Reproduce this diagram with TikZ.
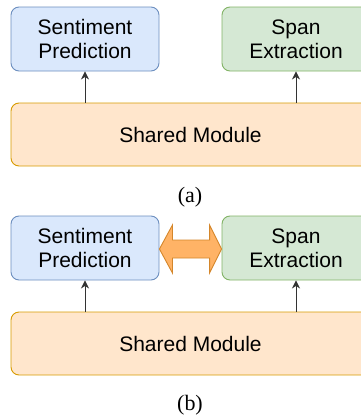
\documentclass[tikz,border=0pt]{standalone}
\usepackage{fontspec}
\setmainfont{Liberation Serif}
\newfontfamily\boxfont{Liberation Sans}
\usetikzlibrary{arrows.meta,calc}
\definecolor{blueFill}{HTML}{DAE8FC}
\definecolor{blueLine}{HTML}{6C8EBF}
\definecolor{greenFill}{HTML}{D5E8D4}
\definecolor{greenLine}{HTML}{82B366}
\definecolor{orangeFill}{HTML}{FFE6CC}
\definecolor{orangeLine}{HTML}{D79B00}
\definecolor{arrowFill}{HTML}{FFB366}
\definecolor{arrowLine}{HTML}{D4862A}
\definecolor{linkGray}{HTML}{333333}
\tikzset{
  taskbox/.style={draw, line width=0.9pt, rounded corners=8pt, minimum width=148pt,
    minimum height=64pt, inner sep=0pt, align=center,
    font=\boxfont\fontsize{21}{24}\selectfont},
  sentbox/.style={taskbox, fill=blueFill, draw=blueLine},
  spanbox/.style={taskbox, fill=greenFill, draw=greenLine},
  sharedbox/.style={taskbox, fill=orangeFill, draw=orangeLine, minimum width=359pt, minimum height=63pt},
  caption/.style={font=\fontsize{22}{24}\selectfont, inner sep=0pt},
  link/.style={draw=linkGray, line width=0.9pt, -{Stealth[length=8pt,width=8pt,inset=2.5pt]}},
  bothway/.style={fill=arrowFill, draw=arrowLine, line width=0.9pt, line join=miter}
}
\begin{document}
\begin{tikzpicture}[x=1pt,y=-1pt]
\useasboundingbox (0,0) rectangle (361,416);
\clip (0,0) rectangle (361,416);

% (a) independent heads on a shared encoder
\node[sentbox]   (sp1) at (85,39)      {Sentiment\\Prediction};
\node[spanbox]   (se1) at (296,39)     {Span\\Extraction};
\node[sharedbox] (sh1) at (190.5,134.5) {Shared Module};
\node[caption]   (ca)  at (190,197.5)  {(a)};
\draw[link] (sh1.north -| sp1.south) -- (sp1.south);
\draw[link] (sh1.north -| se1.south) -- (se1.south);

% (b) heads that also exchange information
\node[sentbox]   (sp2) at (85,248)     {Sentiment\\Prediction};
\node[spanbox]   (se2) at (296,248)    {Span\\Extraction};
\node[sharedbox] (sh2) at (190.5,343.5) {Shared Module};
\node[caption]   (cb)  at (190,405)    {(b)};
\draw[link] (sh2.north -| sp2.south) -- (sp2.south);
\draw[link] (sh2.north -| se2.south) -- (se2.south);

% two-headed block arrow between the heads
\coordinate (lt) at ($(sp2.east)+(0,1)$);
\coordinate (rt) at ($(se2.west)+(0,1)$);
\path[bothway] (lt) -- ++(13,-24) -- ++(0,15) -- ($(rt)+(-12,-9)$) -- ++(0,-15)
  -- (rt) -- ++(-12,24) -- ++(0,-15) -- ($(lt)+(13,9)$) -- ++(0,15) -- cycle;
\end{tikzpicture}
\end{document}
